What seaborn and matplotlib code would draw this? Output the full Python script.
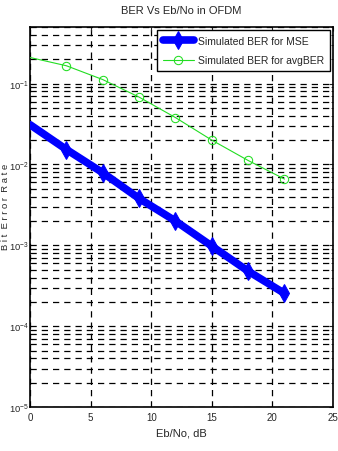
import matplotlib
matplotlib.use("Agg")
import matplotlib.pyplot as plt
import numpy as np
import pandas as pd
import seaborn as sns
from matplotlib.ticker import LogLocator, NullFormatter

EB_NO = [0, 3, 6, 9, 12, 15, 18, 21]
BER_MSE = [0.031, 0.0153, 0.0079, 0.0038, 0.0020, 0.00098, 0.00048, 0.000255]
BER_AVG = [0.21, 0.166, 0.112, 0.068, 0.038, 0.020, 0.0112, 0.0066]

sns.set_style("white")
plt.rcParams["font.family"] = ["Liberation Sans Narrow", "Liberation Sans", "DejaVu Sans"]


def main():
    df = pd.DataFrame({
        "ebno": EB_NO * 2,
        "ber": BER_MSE + BER_AVG,
        "series": ["Simulated BER for MSE"] * len(EB_NO) + ["Simulated BER for avgBER"] * len(EB_NO),
    })

    fig = plt.figure(figsize=(3.38, 4.52), dpi=100)
    ax = fig.add_axes([0.089, 0.097, 0.896, 0.841])

    mse = df[df["series"] == "Simulated BER for MSE"]
    avg = df[df["series"] == "Simulated BER for avgBER"]
    sns.lineplot(data=mse, x="ebno", y="ber", ax=ax, color="#0000ff", linewidth=5.5,
                 marker="d", markersize=9, markevery=list(range(1, len(EB_NO))),
                 markeredgecolor="#0000ff", label="Simulated BER for MSE", zorder=3)
    sns.lineplot(data=avg, x="ebno", y="ber", ax=ax, color="#22dd22", linewidth=0.8,
                 marker="o", markersize=6, markerfacecolor="none", markeredgecolor="#22dd22",
                 markevery=list(range(1, len(EB_NO))),
                 label="Simulated BER for avgBER", zorder=3)

    ax.set_yscale("log")
    ax.set_xlim(0, 25)
    ax.set_ylim(1e-5, 0.5)
    ax.set_xticks([0, 5, 10, 15, 20, 25])
    ax.yaxis.set_major_locator(LogLocator(base=10, numticks=10))
    ax.yaxis.set_minor_locator(LogLocator(base=10, subs=np.arange(2, 10), numticks=10))
    ax.yaxis.set_minor_formatter(NullFormatter())
    ax.grid(True, which="major", axis="both", color="black", linestyle=(0, (5, 4)), linewidth=0.9)
    ax.grid(True, which="minor", axis="y", color="black", linestyle=(0, (5, 4)), linewidth=0.9)
    ax.tick_params(which="both", direction="in", top=True, right=True, labelsize=7, length=3)
    ax.tick_params(axis="y", pad=1, labelsize=6.8)
    ax.tick_params(which="minor", length=1.5)
    for s in ax.spines.values():
        s.set_linewidth(1.2)
        s.set_color("black")

    ax.set_title("BER Vs Eb/No in OFDM", fontsize=8, pad=10)
    ax.set_xlabel("Eb/No, dB", fontsize=8)
    ax.set_ylabel("B i t  E r r o r  R a t e", fontsize=6.8)
    ax.yaxis.set_label_coords(-0.066, 0.53)

    leg = ax.legend(loc="upper right", fontsize=7.5, fancybox=False, framealpha=1,
                    edgecolor="black", borderaxespad=0.3, handlelength=3.0,
                    handletextpad=0.4, borderpad=0.55, labelspacing=0.9)
    leg.get_frame().set_linewidth(1.0)

    fig.savefig("out.png", dpi=100)


if __name__ == "__main__":
    main()
